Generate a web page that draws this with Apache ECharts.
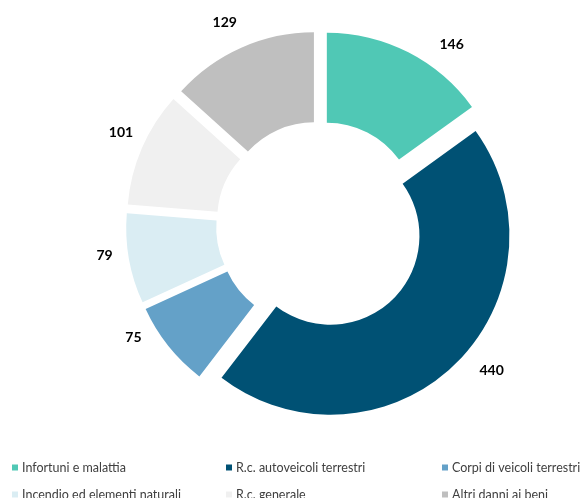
<!DOCTYPE html>
<html>
<head>
<meta charset="utf-8">
<script src="https://cdn.jsdelivr.net/npm/echarts@6/dist/echarts.min.js"></script>
<style>
  html, body { margin: 0; padding: 0; background: #ffffff; }
  #chart { width: 582px; height: 498px; }
</style>
</head>
<body>
<div id="chart"></div>
<script>
// Premium breakdown by line of business
const categories = [
  'Infortuni e malattia',
  'R.c. autoveicoli terrestri',
  'Corpi di veicoli terrestri',
  'Incendio ed elementi naturali',
  'R.c. generale',
  'Altri danni ai beni'
];
const values = [146, 440, 75, 79, 101, 129];
const colors = ['#50c8b5', '#005174', '#64a1c8', '#daedf3', '#f0f0f0', '#bfbfbf'];

// Value-label placement: radial and horizontal leader lengths (leader lines hidden)
const labelRadial = [9, 9, -13, -21, 40, 28];
const labelHorizontal = [22, 13, 32, 32, -33, -12];

// Legend grid: three columns, two rows
const legendColumnLefts = [12, 226, 442];
const legendRowTops = [461, 488];

const chart = echarts.init(document.getElementById('chart'), null, { renderer: 'canvas' });

const pieData = categories.map((name, i) => ({
  name: name,
  value: values[i],
  selected: true,
  itemStyle: { color: colors[i] },
  labelLine: { show: false, length: labelRadial[i], length2: labelHorizontal[i] }
}));

// one legend component per entry so each sits in its own grid cell
const legends = categories.map((name, i) => ({
  data: [name],
  left: legendColumnLefts[i % 3],
  top: legendRowTops[Math.floor(i / 3)],
  icon: 'rect',
  itemWidth: 6,
  itemHeight: 6,
  selectedMode: false,
  padding: 0,
  textStyle: {
    color: '#404040',
    fontSize: 12.5,
    fontFamily: 'Lato, "Noto Sans", sans-serif',
    padding: [0, 0, 0, -1]
  }
}));

chart.setOption({
  animation: false,
  color: colors,
  legend: legends,
  series: [{
    type: 'pie',
    center: [320, 225],
    radius: [89, 179],
    startAngle: 90,
    clockwise: true,
    selectedMode: 'multiple',
    selectedOffset: 15,
    avoidLabelOverlap: false,
    emphasis: { disabled: true },
    label: {
      show: true,
      position: 'outside',
      formatter: '{c}',
      color: '#000000',
      fontSize: 14,
      fontWeight: 'bold',
      fontFamily: 'Lato, "Noto Sans", sans-serif',
      distanceToLabelLine: 5
    },
    labelLine: { show: false },
    data: pieData
  }]
});
</script>
</body>
</html>
